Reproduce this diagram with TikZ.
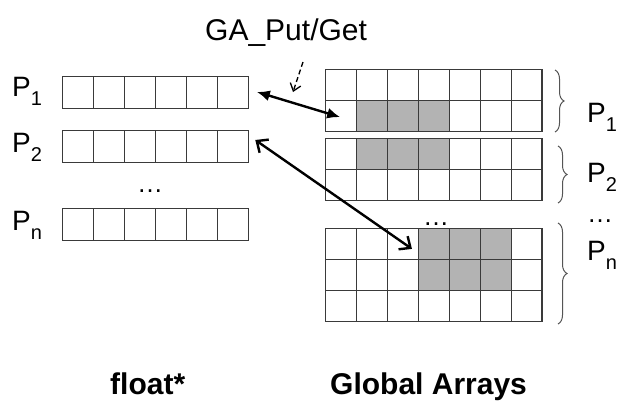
\documentclass[tikz,border=0pt]{standalone}
\usepackage{fontspec}
\setmainfont{Liberation Sans}
\usetikzlibrary{arrows.meta,decorations.pathreplacing}
\definecolor{gridline}{HTML}{3A3A3A}
\definecolor{shadegray}{HTML}{B3B3B3}
\definecolor{bracegray}{HTML}{555555}
\tikzset{
  cell/.style={draw=gridline, line width=1.1pt, minimum width=31pt, minimum height=31.4pt,
    inner sep=0pt, outer sep=0pt, anchor=north west},
  gcell/.style={cell, minimum width=30.9pt, minimum height=31.2pt},
  plabel/.style={anchor=base west, inner sep=0pt, font=\fontsize{28}{30}\selectfont},
  dots/.style={anchor=base, inner sep=0pt, font=\fontsize{26}{28}\selectfont},
  title/.style={anchor=base west, inner sep=0pt, font=\fontsize{30}{34}\selectfont},
  bottomlabel/.style={anchor=base west, inner sep=0pt, font=\fontsize{30}{34}\selectfont\bfseries},
  bracestyle/.style={draw=bracegray, line width=1pt, decorate, decoration={brace, amplitude=9pt}},
  solidarrow/.style={line width=2.4pt, {Latex[length=13pt,width=11pt]}-{Latex[length=13pt,width=11pt]}},
  openarrow/.style={line width=2.4pt, {Straight Barb[length=9pt,width=16pt]}-{Straight Barb[length=9pt,width=16pt]}},
  dasharrow/.style={line width=1.3pt, dash pattern=on 5pt off 3pt, -{Straight Barb[length=7pt,width=11pt]}}
}
\newcommand{\Psub}[1]{P\raisebox{-9pt}{\fontsize{20}{20}\selectfont #1}}
\begin{document}
\begin{tikzpicture}[x=1pt,y=-1pt]
\useasboundingbox (0,0) rectangle (626,400);
\fill[white] (0,0) rectangle (626,400);

% left arrays
\foreach \r/\y in {1/76.7, 2/130.8, n/208.8} {
  \foreach \c in {1,...,6} {
    \node[cell] (L\r c\c) at ({62.3+(\c-1)*31}, \y) {};
  }
}
\node[plabel] (pl1) at (12,96) {\Psub{1}};
\node[plabel] (pl2) at (12,152) {\Psub{2}};
\node[plabel] (pln) at (12,230) {\Psub{n}};
\node[dots] (ldots) at (150,192) {…};

% global arrays
\foreach \b/\r/\y/\s in {1/1/69.3/0, 1/2/100.5/1, 2/1/138.3/1, 2/2/169.5/0, 3/1/228.3/2, 3/2/259.5/2, 3/3/290.7/0} {
  \foreach \c in {1,...,7} {
    \pgfmathtruncatemacro\sh{((\s==1)&&(\c>=2)&&(\c<=4))||((\s==2)&&(\c>=4)&&(\c<=6))}
    \ifnum\sh=1 \def\fc{shadegray}\else\def\fc{white}\fi
    \node[gcell, fill=\fc] (B\b r\r c\c) at ({325.7+(\c-1)*30.9}, \y) {};
  }
}
\node[dots] (gdots) at (436,225) {…};

% braces
\coordinate (br1t) at (555,70);  \coordinate (br1b) at (555,132);
\coordinate (br2t) at (558,146); \coordinate (br2b) at (558,203);
\coordinate (br3t) at (558,223); \coordinate (br3b) at (558,324);
\draw[bracestyle] (br1t) -- (br1b);
\draw[bracestyle] (br2t) -- (br2b);
\draw[bracestyle] (br3t) -- (br3b);
\node[plabel] (pr1) at (587,122) {\Psub{1}};
\node[plabel] (pr2) at (587,182) {\Psub{2}};
\node[dots] (rdots) at (600,222) {…};
\node[plabel] (prn) at (587,260) {\Psub{n}};

% title and arrows
\node[title] (ga) at (205,40) {GA\_Put/Get};
\coordinate (dstart) at (303,62);
\coordinate (dend) at (293,92);
\draw[dasharrow] (dstart) -- (dend);
\draw[solidarrow] ([xshift=8.5pt,yshift=0.5pt]L1c6.east) -- ([shift={(-1pt,-1pt)}]B1r2c1.center);
\draw[openarrow] ([shift={(7pt,6.5pt)}]L2c6.east) -- ([shift={(9pt,-5pt)}]B3r1c3.center);

% bottom labels
\node[bottomlabel] (fl) at (110,394) {float*};
\node[bottomlabel] (gl) at (330,394) {Global Arrays};
\end{tikzpicture}
\end{document}
